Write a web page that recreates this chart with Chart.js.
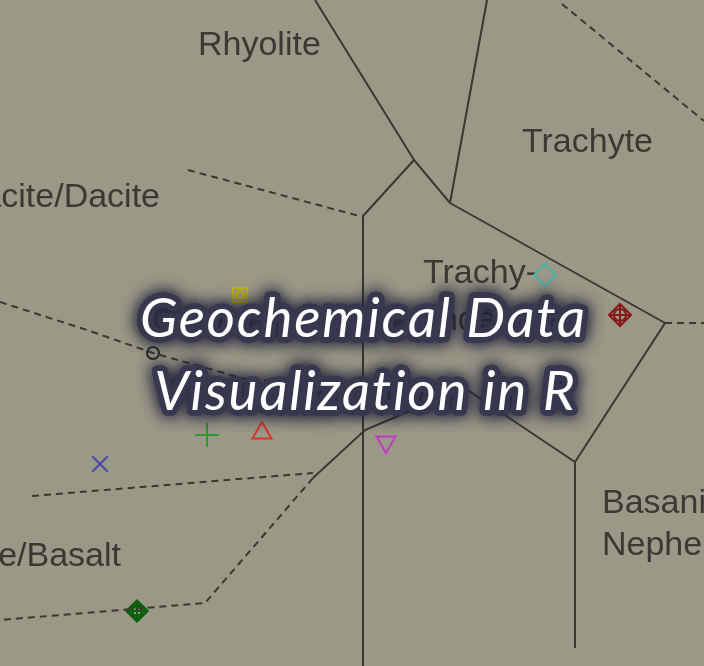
<!DOCTYPE html>
<html><head><meta charset="utf-8">
<script src="https://cdn.jsdelivr.net/npm/chart.js@4"></script>
<style>html,body{margin:0;padding:0;background:#9b9888;overflow:hidden}canvas{display:block}</style>
</head><body>
<canvas id="c" width="704" height="666"></canvas>
<script>
// ---- diagram extent (arbitrary diagram units) ----
const xRange = [0, 70.4];
const yRange = [0, 66.6];

// ---- solid field boundaries ----
const solid1X = [31.5, 41.4, 45.0];            const solid1Y = [66.6, 50.6, 46.3];
const solid2X = [48.7, 45.0];                  const solid2Y = [66.6, 46.3];
const solid3X = [41.4, 36.3, 36.3];            const solid3Y = [50.6, 45.0, 0];
const solid4X = [45.0, 66.5, 57.5, 57.5];      const solid4Y = [46.3, 34.3, 20.4, 1.8];
const solid5X = [31.3, 36.5, 40.5, 46.9, 57.5]; const solid5Y = [18.8, 23.6, 25.3, 27.5, 20.4];

// ---- dashed field boundaries ----
const dash1X = [56.2, 70.4];                   const dash1Y = [66.2, 54.5];
const dash2X = [18.8, 36.3];                   const dash2Y = [49.6, 44.9];
const dash3X = [0, 8.7, 15.3, 24.5, 36.3];     const dash3Y = [36.4, 33.6, 31.3, 28.7, 28.0];
const dash4X = [3.2, 31.3];                    const dash4Y = [17.0, 19.3];
const dash5X = [31.3, 20.5, 0];                const dash5Y = [18.8, 6.3, 4.6];
const dash6X = [66.5, 70.4];                   const dash6Y = [34.3, 34.3];

// ---- samples ----
const sampleNames = ['S1','S2','S3','S4','S5','S6','S7','S8','S9'];
const sampleX = [24.0, 15.3, 20.7, 26.2, 10.0, 38.6, 54.5, 62.0, 13.7];
const sampleY = [37.1, 31.3, 23.1, 23.3, 20.2, 22.4, 39.1, 35.1, 5.5];

// ---- field labels ----
const labelTexts = ['Rhyolite','Trachyte','Rhyodacite/Dacite','Trachy-','andesite','Andesite/Basalt','Basanite/','Nephelinite'];
const labelX     = [19.8, 52.2, 16.0, 42.3, 42.0, 12.1, 60.2, 60.2];
const labelY     = [61.1, 51.4, 45.9, 38.3, 33.6, 10.0, 15.3, 11.1];
const labelAlign = ['left','left','right','left','left','right','left','left'];

// ---- overlay title ----
const titleLines = ['Geochemical Data', 'Visualization in R'];

// ---------------------------------------------------------
const pts = (xs, ys) => xs.map((x, i) => ({x, y: ys[i]}));
const one = i => [{x: sampleX[i], y: sampleY[i]}];
const LINE = '#3a3930';

function lineDs(xs, ys, dashed) {
  return {type:'line', data: pts(xs, ys), borderColor: LINE, borderWidth: 2,
    borderDash: dashed ? [7,5] : [], pointRadius: 0, tension: 0, fill: false, showLine: true, clip: false};
}
function ptDs(i, style, color, r, rot, w) {
  return {type:'scatter', data: one(i), pointStyle: style, pointRadius: r,
    pointRotation: rot || 0, pointBorderColor: color, pointBackgroundColor: 'rgba(0,0,0,0)',
    pointBorderWidth: w || 2, clip: false};
}

const datasets = [
  lineDs(solid1X, solid1Y), lineDs(solid2X, solid2Y), lineDs(solid3X, solid3Y),
  lineDs(solid4X, solid4Y), lineDs(solid5X, solid5Y),
  lineDs(dash1X, dash1Y, true), lineDs(dash2X, dash2Y, true), lineDs(dash3X, dash3Y, true),
  lineDs(dash4X, dash4Y, true), lineDs(dash5X, dash5Y, true), lineDs(dash6X, dash6Y, true),
  ptDs(0, 'rect', '#c2b200', 10), ptDs(0, 'circle', '#c2b200', 4),
  ptDs(1, 'circle', '#2a2a24', 6),
  ptDs(2, 'cross', '#2e9a2e', 12),
  ptDs(3, 'triangle', '#d2382a', 11),
  ptDs(4, 'crossRot', '#4848a8', 11),
  ptDs(5, 'triangle', '#c23cc0', 11, 180),
  ptDs(6, 'rectRot', '#48b4a4', 11),
  ptDs(7, 'rectRot', '#861818', 11), ptDs(7, 'circle', '#861818', 6), ptDs(7, 'cross', '#861818', 11),
  ptDs(8, 'rectRot', '#0b5f0b', 10, 0, 3), ptDs(8, 'circle', '#0b5f0b', 5, 0, 3), ptDs(8, 'cross', '#0b5f0b', 9)
];

const bgPlugin = {
  id: 'bg',
  beforeDraw(chart) {
    const ctx = chart.ctx;
    ctx.save(); ctx.fillStyle = '#9b9888';
    ctx.fillRect(0, 0, chart.width, chart.height); ctx.restore();
  }
};

const labelPlugin = {
  id: 'labels',
  beforeDatasetsDraw(chart) {
    const ctx = chart.ctx, xs = chart.scales.x, ys = chart.scales.y;
    ctx.save();
    ctx.font = '34px "Liberation Sans", Arial, sans-serif';
    ctx.fillStyle = '#3a3933';
    ctx.textBaseline = 'alphabetic';
    labelTexts.forEach((t, i) => {
      ctx.textAlign = labelAlign[i];
      ctx.fillText(t, xs.getPixelForValue(labelX[i]), ys.getPixelForValue(labelY[i]));
    });
    ctx.restore();
  }
};

const titlePlugin = {
  id: 'overlayTitle',
  afterDraw(chart) {
    const ctx = chart.ctx, xs = chart.scales.x, ys = chart.scales.y;
    const cx = [(xs.getPixelForValue(14.0) + xs.getPixelForValue(58.5)) / 2,
                (xs.getPixelForValue(15.7) + xs.getPixelForValue(57.2)) / 2];
    const by = [ys.getPixelForValue(32.9), ys.getPixelForValue(25.6)];
    const fam = 'Lato, "Open Sans", sans-serif';
    ctx.save();
    ctx.font = `italic 100px ${fam}`;
    const capH = ctx.measureText('H').actualBoundingBoxAscent;
    const size = 100 * 39 / capH;
    ctx.font = `italic ${size.toFixed(1)}px ${fam}`;
    ctx.letterSpacing = '0px';
    const w0 = ctx.measureText(titleLines[0]).width;
    const sp = (445 - w0) / (titleLines[0].length - 1);
    ctx.letterSpacing = sp.toFixed(2) + 'px';
    ctx.textAlign = 'center';
    ctx.textBaseline = 'alphabetic';
    ctx.lineJoin = 'round';
    const off = sp / 2;
    for (let pass = 0; pass < 2; pass++) {
      ctx.shadowColor = 'rgba(34,34,58,0.95)';
      ctx.shadowBlur = 16;
      ctx.strokeStyle = 'rgba(56,56,80,0.9)';
      ctx.lineWidth = 11;
      titleLines.forEach((t, i) => ctx.strokeText(t, cx[i] + off, by[i]));
    }
    ctx.shadowBlur = 0; ctx.shadowColor = 'transparent';
    ctx.fillStyle = '#ffffff';
    titleLines.forEach((t, i) => ctx.fillText(t, cx[i] + off, by[i]));
    ctx.restore();
  }
};

new Chart(document.getElementById('c'), {
  type: 'scatter',
  data: { datasets },
  options: {
    responsive: false, animation: false, events: [],
    layout: { padding: 0, autoPadding: false },
    plugins: { legend: { display: false }, tooltip: { enabled: false }, title: { display: false } },
    scales: {
      x: { type: 'linear', min: xRange[0], max: xRange[1], display: false },
      y: { type: 'linear', min: yRange[0], max: yRange[1], display: false }
    }
  },
  plugins: [bgPlugin, labelPlugin, titlePlugin]
});
</script>
</body></html>
